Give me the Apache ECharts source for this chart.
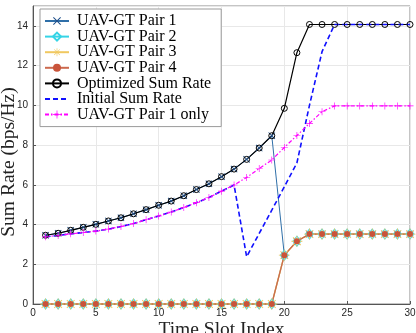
<!DOCTYPE html>
<html>
<head>
<meta charset="utf-8">
<script src="https://cdn.jsdelivr.net/npm/echarts@6/dist/echarts.min.js"></script>
<style>
  html, body { margin: 0; padding: 0; background: #fff; }
  #chart { width: 416px; height: 333px; }
</style>
</head>
<body>
<div id="chart"></div>
<script>
// time slots 1..30
const slots = [1,2,3,4,5,6,7,8,9,10,11,12,13,14,15,16,17,18,19,20,21,22,23,24,25,26,27,28,29,30]

const pair1 = [3.46,3.56,3.71,3.86,4.01,4.18,4.34,4.54,4.75,4.97,5.18,5.45,5.76,6.05,6.41,6.79,7.28,7.85,8.47,2.46,3.16,3.52,3.52,3.52,3.52,3.52,3.52,3.52,3.52,3.52]
const pair2 = [0,0,0,0,0,0,0,0,0,0,0,0,0,0,0,0,0,0,0,2.46,3.16,3.52,3.52,3.52,3.52,3.52,3.52,3.52,3.52,3.52]
const pair3 = [0,0,0,0,0,0,0,0,0,0,0,0,0,0,0,0,0,0,0,2.46,3.16,3.52,3.52,3.52,3.52,3.52,3.52,3.52,3.52,3.52]
const pair4 = [0,0,0,0,0,0,0,0,0,0,0,0,0,0,0,0,0,0,0,2.46,3.16,3.52,3.52,3.52,3.52,3.52,3.52,3.52,3.52,3.52]
const optimized = [3.46,3.56,3.71,3.86,4.01,4.18,4.34,4.54,4.75,4.97,5.18,5.45,5.76,6.05,6.41,6.79,7.28,7.85,8.47,9.85,12.65,14.07,14.07,14.07,14.07,14.07,14.07,14.07,14.07,14.07]
const initial = [3.38,3.45,3.53,3.6,3.67,3.77,3.9,4.05,4.24,4.43,4.63,4.86,5.1,5.36,5.68,5.99,2.38,3.55,4.72,5.9,7.1,10.0,12.7,14.07,14.07,14.07,14.07,14.07,14.07,14.07]
const pair1Only = [3.38,3.45,3.53,3.6,3.67,3.77,3.9,4.05,4.24,4.43,4.63,4.86,5.1,5.36,5.68,5.99,6.37,6.82,7.25,7.88,8.48,9.09,9.68,9.97,9.97,9.97,9.97,9.97,9.97,9.97]

const xTicks = { min: 0, max: 30, interval: 5 }
const yTicks = { min: 0, max: 15, interval: 2 }

const pts = arr => arr.map((v, i) => [slots[i], v])

// marker shapes (matlab style)
const X_MARK = 'path://M-7.8,-6.4 L-6.4,-7.8 L7.8,6.4 L6.4,7.8 Z M6.4,-7.8 L7.8,-6.4 L-6.4,7.8 L-7.8,6.4 Z'
const PLUS_MARK = 'path://M-0.9,-10 L0.9,-10 L0.9,10 L-0.9,10 Z M-10,-0.9 L10,-0.9 L10,0.9 L-10,0.9 Z'
const STAR_MARK = 'path://M-0.8,-10 L0.8,-10 L0.8,10 L-0.8,10 Z M-10,-0.8 L10,-0.8 L10,0.8 L-10,0.8 Z M-7.6,-6.5 L-6.5,-7.6 L7.6,6.5 L6.5,7.6 Z M6.5,-7.6 L7.6,-6.5 L-6.5,7.6 L-7.6,6.5 Z'

const serif = '"Liberation Serif", "DejaVu Serif", serif'
const sans = '"Liberation Sans", Arial, sans-serif'

const chart = echarts.init(document.getElementById('chart'))
chart.setOption({
  animation: false,
  grid: {
    left: 33, right: 6, top: 6, bottom: 29,
    outerBoundsMode: 'none', containLabel: false,
    show: true, borderColor: '#8a8a8a', borderWidth: 1,
  },
  legend: {
    orient: 'vertical', left: 40, top: 9,
    padding: [4, 10, 4, 4],
    backgroundColor: '#fff', borderColor: '#9a9a9a', borderWidth: 1,
    itemWidth: 24, itemHeight: 10, itemGap: -0.4,
    textStyle: { fontFamily: serif, fontSize: 16, color: '#000', lineHeight: 14, padding: [0, 0, 0, 3] },
    data: [
      'UAV-GT Pair 1', 'UAV-GT Pair 2', 'UAV-GT Pair 3', 'UAV-GT Pair 4', 'Optimized Sum Rate',
      { name: 'Initial Sum Rate', itemStyle: { opacity: 0 } },
      'UAV-GT Pair 1 only',
    ],
  },
  xAxis: {
    type: 'value', ...xTicks,
    name: 'Time Slot Index', nameLocation: 'middle', nameGap: 16, nameMoveOverlap: false,
    nameTextStyle: { fontFamily: serif, fontSize: 19.5, color: '#222' },
    axisLine: { show: true, lineStyle: { color: '#555' } },
    axisTick: { inside: true, length: 3, lineStyle: { color: '#555' } },
    axisLabel: { fontFamily: sans, fontSize: 10, color: '#262626', margin: 4 },
    splitLine: { show: true, lineStyle: { color: '#e8e8e8' } },
  },
  yAxis: {
    type: 'value', ...yTicks,
    name: 'Sum Rate (bps/Hz)', nameLocation: 'middle', nameGap: 14, nameMoveOverlap: false,
    nameTextStyle: { fontFamily: serif, fontSize: 19.5, color: '#222', padding: [0, 14, 0, 0] },
    axisLine: { show: true, lineStyle: { color: '#555' } },
    axisTick: { inside: true, length: 3, lineStyle: { color: '#555' } },
    axisLabel: { fontFamily: sans, fontSize: 10, color: '#262626', margin: 5, showMaxLabel: false },
    splitLine: { show: true, lineStyle: { color: '#e8e8e8' } },
  },
  series: [
    {
      name: 'UAV-GT Pair 1', type: 'line', data: pts(pair1),
      symbol: X_MARK, symbolSize: 7,
      lineStyle: { color: '#2f6fa8', width: 1 },
      itemStyle: { color: '#1f4f8a' },
    },
    {
      name: 'UAV-GT Pair 2', type: 'line', data: pts(pair2),
      symbol: 'diamond', symbolSize: [8, 10],
      lineStyle: { color: '#35d4e6', width: 1 },
      itemStyle: { color: 'rgba(0,0,0,0)', borderColor: '#35d4e6', borderWidth: 1 },
    },
    {
      name: 'UAV-GT Pair 3', type: 'line', data: pts(pair3),
      symbol: STAR_MARK, symbolSize: 11,
      lineStyle: { color: '#f0c860', width: 1.5 },
      itemStyle: { color: '#f0c860' },
    },
    {
      name: 'UAV-GT Pair 4', type: 'line', data: pts(pair4),
      symbol: 'circle', symbolSize: 6,
      lineStyle: { color: '#cc6a4e', width: 1.3 },
      itemStyle: { color: '#c9543a' },
    },
    {
      name: 'Optimized Sum Rate', type: 'line', data: pts(optimized),
      symbol: 'circle', symbolSize: 6,
      lineStyle: { color: '#000', width: 1.2 },
      itemStyle: { color: 'rgba(0,0,0,0)', borderColor: '#000', borderWidth: 1 },
    },
    {
      name: 'Initial Sum Rate', type: 'line', data: pts(initial),
      symbol: 'none',
      lineStyle: { color: '#1010ff', width: 1.6, type: [5, 3] },
      itemStyle: { color: '#1010ff' },
    },
    {
      name: 'UAV-GT Pair 1 only', type: 'line', data: pts(pair1Only),
      symbol: PLUS_MARK, symbolSize: 7,
      lineStyle: { color: '#ff00ff', width: 1.2, type: [4, 2, 1.5, 2] },
      itemStyle: { color: '#ff00ff' },
    },
  ],
})
</script>
</body>
</html>
